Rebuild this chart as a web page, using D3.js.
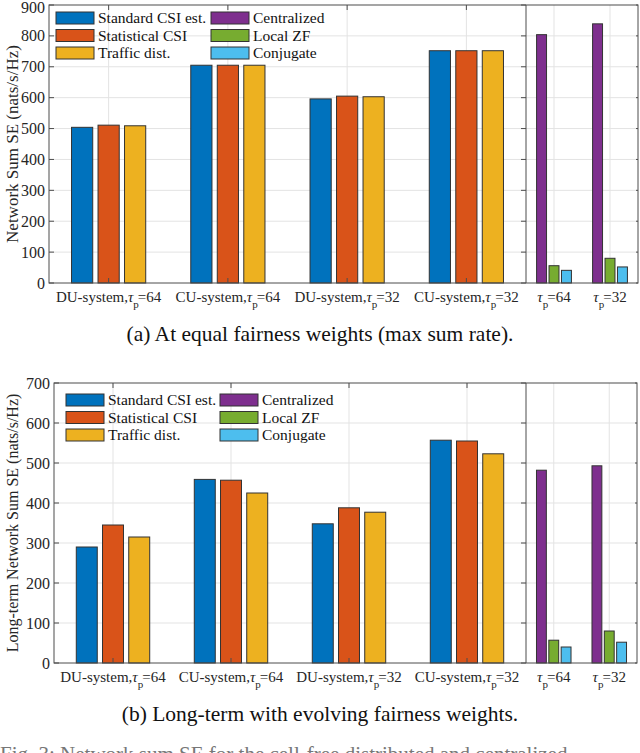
<!DOCTYPE html>
<html>
<head>
<meta charset="utf-8">
<script src="https://cdn.jsdelivr.net/npm/d3@7"></script>
<style>
  body { margin: 0; background: #fff; }
  svg { display: block; font-family: "Liberation Serif", "Times New Roman", serif; }
  .tick-label { font-size: 15px; fill: #262626; }
  .grid line { stroke: #e3e3e3; stroke-width: 1; }
</style>
</head>
<body>
<svg id="chart" width="640" height="753"></svg>
<script>
// categories
var systems = ["DU-system", "CU-system", "DU-system", "CU-system"];
var pilots = [64, 64, 32, 32];
var rightPilots = [64, 32];
var leftSeries = ["Standard CSI est.", "Statistical CSI", "Traffic dist."];
var rightSeries = ["Centralized", "Local ZF", "Conjugate"];

// (a) equal fairness weights
var maxRateStandard = [504, 705, 596, 752];
var maxRateStatistical = [511, 705, 605, 752];
var maxRateTraffic = [509, 705, 603, 752];
var maxRateCentralized = [804, 839];
var maxRateLocalZF = [56, 80];
var maxRateConjugate = [41, 52];

// (b) long-term, evolving weights
var longTermStandard = [290, 459, 348, 557];
var longTermStatistical = [345, 457, 388, 555];
var longTermTraffic = [315, 425, 377, 523];
var longTermCentralized = [482, 493];
var longTermLocalZF = [57, 80];
var longTermConjugate = [40, 52];

var yTicksA = [0, 100, 200, 300, 400, 500, 600, 700, 800, 900];
var yTicksB = [0, 100, 200, 300, 400, 500, 600, 700];

var colors = {
    "Standard CSI est.": "#0072BD",
    "Statistical CSI": "#D95319",
    "Traffic dist.": "#EDB120",
    "Centralized": "#7E2F8E",
    "Local ZF": "#77AC30",
    "Conjugate": "#4DBEEE"
};

var svg = d3.select("#chart");

/**
 * Draws one panel: a wide left axes with 4 groups and a narrow right axes with 2 groups.
 */
function drawPanel(opt) {
    var g = svg.append("g");

    var y = d3.scaleLinear().domain([0, opt.yMax]).range([opt.bottom, opt.top]);
    var xLeft = d3.scaleLinear().domain([0.5, 4.5]).range([opt.left, opt.divider]);
    var xRight = d3.scaleLinear().domain([0.5, 2.5]).range([opt.divider, opt.right]);

    // MATLAB-like grouped bar offsets
    var subLeft = d3.scaleBand().domain(leftSeries).range([-1 / 3, 1 / 3])
        .paddingInner(0.2).paddingOuter(0.1);
    var subRight = d3.scaleBand().domain(rightSeries).range([-1 / 3, 1 / 3])
        .paddingInner(0.2).paddingOuter(0.1);

    // grid
    var grid = g.append("g").attr("class", "grid");
    grid.selectAll(".hl").data(opt.yTicks.slice(1, -1)).enter().append("line")
        .attr("x1", opt.left).attr("x2", opt.right)
        .attr("y1", function(d) { return y(d); })
        .attr("y2", function(d) { return y(d); });
    grid.selectAll(".vl").data(d3.range(1, 5)).enter().append("line")
        .attr("x1", function(d) { return xLeft(d); })
        .attr("x2", function(d) { return xLeft(d); })
        .attr("y1", opt.top).attr("y2", opt.bottom);
    grid.selectAll(".vr").data(d3.range(1, 3)).enter().append("line")
        .attr("x1", function(d) { return xRight(d); })
        .attr("x2", function(d) { return xRight(d); })
        .attr("y1", opt.top).attr("y2", opt.bottom);

    // left bars
    var leftData = [];
    leftSeries.forEach(function(s, si) {
        opt.leftValues[si].forEach(function(v, i) {
            leftData.push({series: s, group: i + 1, value: v});
        });
    });
    g.selectAll(".barL").data(leftData).enter().append("rect")
        .attr("x", function(d) { return xLeft(d.group + subLeft(d.series)); })
        .attr("width", function(d) { return xLeft(d.group + subLeft.bandwidth()) - xLeft(d.group); })
        .attr("y", function(d) { return y(d.value); })
        .attr("height", function(d) { return y(0) - y(d.value); })
        .attr("fill", function(d) { return colors[d.series]; })
        .attr("stroke", "#333")
        .attr("stroke-width", 1);

    // right bars
    var rightData = [];
    rightSeries.forEach(function(s, si) {
        opt.rightValues[si].forEach(function(v, i) {
            rightData.push({series: s, group: i + 1, value: v});
        });
    });
    g.selectAll(".barR").data(rightData).enter().append("rect")
        .attr("x", function(d) { return xRight(d.group + subRight(d.series)); })
        .attr("width", function(d) { return xRight(d.group + subRight.bandwidth()) - xRight(d.group); })
        .attr("y", function(d) { return y(d.value); })
        .attr("height", function(d) { return y(0) - y(d.value); })
        .attr("fill", function(d) { return colors[d.series]; })
        .attr("stroke", "#333")
        .attr("stroke-width", 1);

    // axes boxes
    var axisColor = "#4d4d4d";
    g.append("rect")
        .attr("x", opt.left).attr("y", opt.top)
        .attr("width", opt.right - opt.left).attr("height", opt.bottom - opt.top)
        .attr("fill", "none").attr("stroke", axisColor).attr("stroke-width", 1);
    g.append("line")
        .attr("x1", opt.divider).attr("x2", opt.divider)
        .attr("y1", opt.top).attr("y2", opt.bottom)
        .attr("stroke", axisColor);

    // inward ticks
    var tl = 5;
    opt.yTicks.forEach(function(t) {
        g.append("line").attr("x1", opt.left).attr("x2", opt.left + tl)
            .attr("y1", y(t)).attr("y2", y(t)).attr("stroke", axisColor);
        g.append("line").attr("x1", opt.divider - tl).attr("x2", opt.divider)
            .attr("y1", y(t)).attr("y2", y(t)).attr("stroke", axisColor);
        g.append("line").attr("x1", opt.right - 2).attr("x2", opt.right)
            .attr("y1", y(t)).attr("y2", y(t)).attr("stroke", axisColor);
    });
    d3.range(1, 5).forEach(function(i) {
        g.append("line").attr("x1", xLeft(i)).attr("x2", xLeft(i))
            .attr("y1", opt.bottom).attr("y2", opt.bottom - tl).attr("stroke", axisColor);
        g.append("line").attr("x1", xLeft(i)).attr("x2", xLeft(i))
            .attr("y1", opt.top).attr("y2", opt.top + tl).attr("stroke", axisColor);
    });

    // y tick labels
    g.selectAll(".ylab").data(opt.yTicks).enter().append("text")
        .attr("class", "tick-label")
        .attr("x", opt.left - 4)
        .attr("y", function(d) { return Math.max(y(d), 7); })
        .attr("dy", "0.35em")
        .attr("text-anchor", "end")
        .style("font-size", "16px")
        .text(function(d) { return d; });

    // x tick labels
    function tauLabel(sel, prefix, p) {
        sel.append("tspan").text(prefix);
        sel.append("tspan").attr("font-style", "italic").text("τ");
        sel.append("tspan").attr("font-size", "11px").attr("dy", 6).text("p");
        sel.append("tspan").attr("dy", -6).attr("dx", -1).text("=" + p);
    }
    systems.forEach(function(s, i) {
        var t = g.append("text").attr("class", "tick-label")
            .attr("x", xLeft(i + 1)).attr("y", opt.bottom + 19)
            .attr("text-anchor", "middle");
        tauLabel(t, s + ",", pilots[i]);
    });
    rightPilots.forEach(function(p, i) {
        var t = g.append("text").attr("class", "tick-label")
            .attr("x", xRight(i + 1)).attr("y", opt.bottom + 19)
            .attr("text-anchor", "middle");
        tauLabel(t, "", p);
    });

    // y axis title
    g.append("text")
        .attr("transform", "translate(18," + ((opt.top + opt.bottom) / 2) + ") rotate(-90)")
        .attr("text-anchor", "middle")
        .attr("font-size", opt.yTitleSize)
        .attr("fill", "#262626")
        .text(opt.yTitle);

    // legend
    var legend = g.append("g");
    var entries = leftSeries.concat(rightSeries);
    entries.forEach(function(name, i) {
        var col = Math.floor(i / 3), row = i % 3;
        var lx = opt.legendX + col * opt.legendColW;
        var ly = opt.legendY + row * 17.5;
        legend.append("rect")
            .attr("x", lx).attr("y", ly - 6)
            .attr("width", 38).attr("height", 12)
            .attr("fill", colors[name])
            .attr("stroke", "#333");
        legend.append("text")
            .attr("x", lx + 42).attr("y", ly)
            .attr("dy", "0.35em")
            .attr("font-size", "15.5px")
            .attr("fill", "#111")
            .text(name);
    });

    // caption
    svg.append("text")
        .attr("x", 320).attr("y", opt.captionY)
        .attr("text-anchor", "middle")
        .attr("font-size", "21.5px")
        .attr("fill", "#111")
        .text(opt.caption);
}

drawPanel({
    top: 5, bottom: 283, left: 49, divider: 526, right: 638,
    yMax: 900, yTicks: yTicksA,
    leftValues: [maxRateStandard, maxRateStatistical, maxRateTraffic],
    rightValues: [maxRateCentralized, maxRateLocalZF, maxRateConjugate],
    yTitle: "Network Sum SE (nats/s/Hz)", yTitleSize: "17px",
    legendX: 56, legendY: 18, legendColW: 155,
    caption: "(a) At equal fairness weights (max sum rate).",
    captionY: 341
});

drawPanel({
    top: 383, bottom: 663, left: 54, divider: 526, right: 637,
    yMax: 700, yTicks: yTicksB,
    leftValues: [longTermStandard, longTermStatistical, longTermTraffic],
    rightValues: [longTermCentralized, longTermLocalZF, longTermConjugate],
    yTitle: "Long-term Network Sum SE (nats/s/Hz)", yTitleSize: "16px",
    legendX: 66, legendY: 400, legendColW: 154,
    caption: "(b) Long-term with evolving fairness weights.",
    captionY: 721
});

// clipped figure caption at the bottom edge
svg.append("text")
    .attr("x", 0).attr("y", 761)
    .attr("font-size", "21px")
    .attr("fill", "#777")
    .text("Fig. 3: Network sum SE for the cell-free distributed and centralized");
</script>
</body>
</html>
